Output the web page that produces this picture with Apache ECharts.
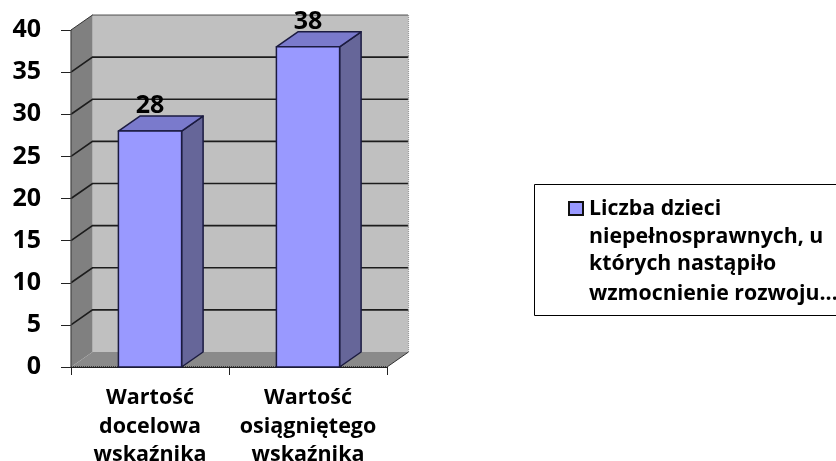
<!DOCTYPE html>
<html>
<head>
<meta charset="utf-8">
<script src="https://cdn.jsdelivr.net/npm/echarts@6/dist/echarts.min.js"></script>
<style>
html,body{margin:0;padding:0;background:#fff;overflow:hidden;}
</style>
</head>
<body>
<div id="main" style="width:836px;height:461px;"></div>
<script>
var categories = ['Wartość\ndocelowa\nwskaźnika', 'Wartość\nosiągniętego\nwskaźnika'];
var values = [28, 38];
var yTicks = [0, 5, 10, 15, 20, 25, 30, 35, 40];
var legendLines = ['Liczba dzieci', 'niepełnosprawnych, u', 'których nastąpiło', 'wzmocnienie rozwoju...'];

var fontName = 'Open Sans';
var depthX = 21.5;
var depthY = 15;
var barShare = 0.4;

function renderWalls(params, api) {
    var s = params.coordSys;
    var x0 = s.x, x1 = s.x + s.width;
    var yb = s.y + s.height, yt = s.y;
    var children = [
        {type: 'polygon', shape: {points: [[x0 + depthX, yt - depthY], [x1 + depthX, yt - depthY], [x1 + depthX, yb - depthY], [x0 + depthX, yb - depthY]]}, style: {fill: '#c0c0c0'}},
        {type: 'polygon', shape: {points: [[x0, yb], [x0 + depthX, yb - depthY], [x0 + depthX, yt - depthY], [x0, yt]]}, style: {fill: '#808080'}},
        {type: 'polygon', shape: {points: [[x0, yb], [x0 + depthX, yb - depthY], [x1 + depthX, yb - depthY], [x1, yb]]}, style: {fill: '#8a8a8a'}}
    ];
    yTicks.forEach(function (t) {
        var y = api.coord([0, t])[1];
        if (t > 0 && t < 40) {
            children.push({type: 'polyline', shape: {points: [[x0, y], [x0 + depthX, y - depthY], [x1 + depthX, y - depthY]]}, style: {fill: null, stroke: '#1c1c1c', lineWidth: 1.6}});
        }
    });
    // dotted edges of the plot
    children.push({type: 'line', shape: {x1: x0 + depthX, y1: yt - depthY, x2: x1 + depthX, y2: yt - depthY}, style: {stroke: '#222', lineWidth: 1.5, lineDash: [1, 1]}});
    children.push({type: 'line', shape: {x1: x1 + depthX, y1: yt - depthY, x2: x1 + depthX, y2: yb - depthY}, style: {stroke: '#999', lineWidth: 1.2, lineDash: [1, 1]}});
    children.push({type: 'line', shape: {x1: x0, y1: yb, x2: x1, y2: yb}, style: {stroke: '#222', lineWidth: 1.5, lineDash: [1, 1]}});
    children.push({type: 'line', shape: {x1: x1, y1: yb, x2: x1 + depthX, y2: yb - depthY}, style: {stroke: '#333', lineWidth: 1}});
    children.push({type: 'line', shape: {x1: x0, y1: yt, x2: x0 + depthX, y2: yt - depthY}, style: {stroke: '#333', lineWidth: 1}});
    children.push({type: 'line', shape: {x1: x0, y1: yt, x2: x0, y2: yb}, style: {stroke: '#444', lineWidth: 1.2}});
    return {type: 'group', children: children};
}

function renderBar(params, api) {
    var c = api.value(0);
    var v = api.value(1);
    var top = api.coord([c, v]);
    var base = api.coord([c, 0]);
    var w = api.size([1, 0])[0] * barShare;
    var l = top[0] - w / 2, r = top[0] + w / 2;
    var edge = {stroke: '#1b1b40', lineWidth: 1.5, lineJoin: 'round'};
    return {type: 'group', children: [
        {type: 'polygon', shape: {points: [[r, base[1]], [r + depthX, base[1] - depthY], [r + depthX, top[1] - depthY], [r, top[1]]]}, style: Object.assign({fill: '#666699'}, edge)},
        {type: 'polygon', shape: {points: [[l, top[1]], [l + depthX, top[1] - depthY], [r + depthX, top[1] - depthY], [r, top[1]]]}, style: Object.assign({fill: '#7a7acc'}, edge)},
        {type: 'rect', shape: {x: l, y: top[1], width: r - l, height: base[1] - top[1]}, style: Object.assign({fill: '#9999ff'}, edge)},
        {type: 'text', style: {text: String(v), x: top[0], y: top[1] - 25, align: 'center', verticalAlign: 'middle', fill: '#000', font: 'bold 25px "' + fontName + '"'}}
    ]};
}

var legendText = legendLines.map(function (line, i) {
    return {type: 'text', left: 589, top: [198, 226, 253, 283][i], style: {text: line, fill: '#000', font: 'bold 21.3px "' + fontName + '"'}};
});

var option = {
    backgroundColor: '#fff',
    animation: false,
    grid: {left: 71, top: 30, width: 316, height: 337, outerBoundsMode: 'none'},
    xAxis: {
        type: 'category',
        data: categories,
        axisLine: {lineStyle: {color: '#222'}},
        axisTick: {show: true, length: 8, lineStyle: {color: '#222'}},
        axisLabel: {color: '#000', fontFamily: fontName, fontWeight: 'bold', fontSize: 21.5, lineHeight: 28.5, margin: 17, interval: 0}
    },
    yAxis: {
        type: 'value',
        min: 0,
        max: 40,
        interval: 5,
        splitLine: {show: false},
        axisLine: {show: true, lineStyle: {color: '#222'}},
        axisTick: {show: true, length: 10, lineStyle: {color: '#222'}},
        axisLabel: {color: '#000', fontFamily: fontName, fontWeight: 'bold', fontSize: 25, margin: 30, padding: [4, 0, 0, 0]}
    },
    series: [
        {type: 'custom', renderItem: renderWalls, data: [0], silent: true, clip: false, z: 1},
        {type: 'custom', renderItem: renderBar, data: values.map(function (v, i) { return [i, v]; }), encode: {x: 0, y: 1}, clip: false, z: 3}
    ],
    graphic: [
        {type: 'rect', left: 534, top: 184, shape: {width: 320, height: 131}, style: {fill: '#fff', stroke: '#000', lineWidth: 1}},
        {type: 'rect', left: 568, top: 201, shape: {width: 14, height: 13}, style: {fill: '#9999ff', stroke: '#111', lineWidth: 2}},
        {type: 'text', left: 364, top: 256, style: {text: 'f', fill: '#000', font: 'bold 12px "' + fontName + '"'}}
    ].concat(legendText)
};

var chart = echarts.init(document.getElementById('main'));
chart.setOption(option);
</script>
</body>
</html>
